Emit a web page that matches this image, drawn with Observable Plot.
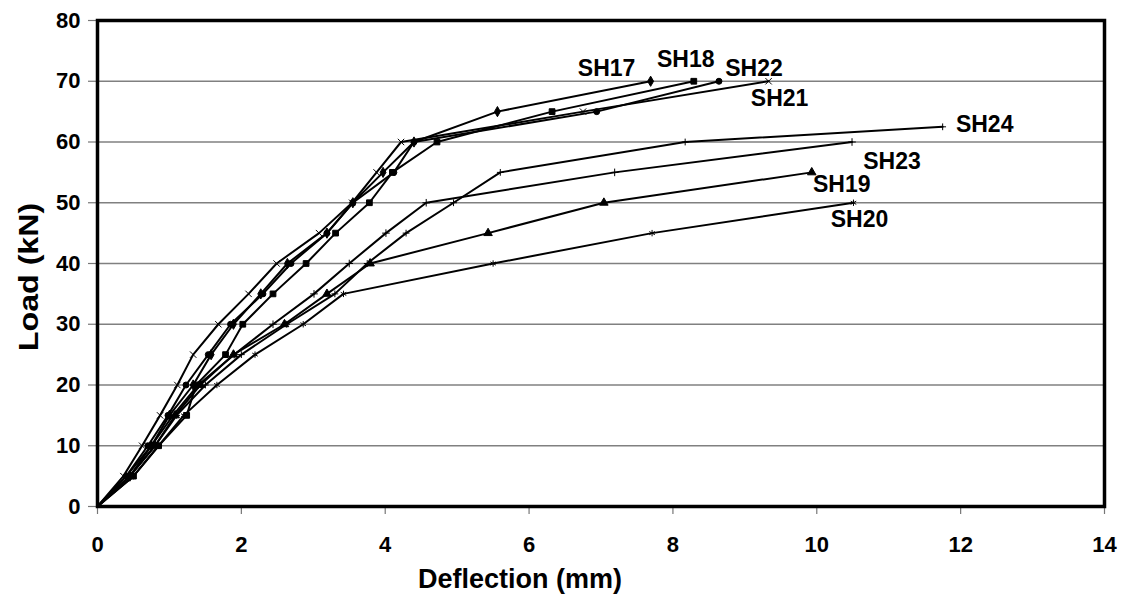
<!DOCTYPE html>
<html>
<head>
<meta charset="utf-8">
<script src="https://cdn.jsdelivr.net/npm/d3@7"></script>
<script src="https://cdn.jsdelivr.net/npm/@observablehq/plot@0.6"></script>
<style>
  html, body { margin: 0; padding: 0; background: #fff; }
  #chart svg { display: block; }
</style>
</head>
<body>
<div id="chart"></div>
<script>
// Load steps (kN)
const loads = [0, 5, 10, 15, 20, 25, 30, 35, 40, 45, 50, 55, 60, 65, 70];
const loadsSH24 = [0, 5, 10, 15, 20, 25, 30, 35, 40, 45, 50, 55, 60, 62.5];

// Deflections (mm) per specimen
const SH17 = [0, 0.45, 0.75, 1.00, 1.33, 1.58, 1.89, 2.27, 2.64, 3.19, 3.55, 3.97, 4.40, 5.56, 7.69];
const SH18 = [0, 0.50, 0.85, 1.24, 1.37, 1.78, 2.02, 2.44, 2.90, 3.31, 3.78, 4.10, 4.72, 6.32, 8.29];
const SH21 = [0, 0.36, 0.62, 0.87, 1.11, 1.33, 1.68, 2.10, 2.49, 3.08, 3.54, 3.88, 4.22, 6.75, 9.33];
const SH22 = [0, 0.40, 0.70, 0.98, 1.23, 1.54, 1.85, 2.30, 2.69, 3.19, 3.55, 4.12, 4.40, 6.94, 8.64];
const SH19 = [0, 0.45, 0.80, 1.08, 1.43, 1.89, 2.60, 3.19, 3.79, 5.43, 7.04, 9.93];
const SH20 = [0, 0.50, 0.85, 1.20, 1.66, 2.19, 2.86, 3.42, 5.50, 7.71, 10.51];
const SH23 = [0, 0.40, 0.75, 1.05, 1.40, 1.90, 2.44, 3.01, 3.50, 4.01, 4.57, 7.19, 10.49];
const SH24 = [0, 0.45, 0.80, 1.10, 1.50, 2.00, 2.63, 3.30, 3.75, 4.29, 4.95, 5.60, 8.17, 11.75];

const seriesNames = ["SH17", "SH18", "SH19", "SH20", "SH21", "SH22", "SH23", "SH24"];
const xTicks = [0, 2, 4, 6, 8, 10, 12, 14];
const yTicks = [0, 10, 20, 30, 40, 50, 60, 70, 80];
const xTitle = "Deflection (mm)";
const yTitle = "Load (kN)";

const seriesDefl = {SH17, SH18, SH19, SH20, SH21, SH22, SH23, SH24};
const seriesLoads = {SH17: loads, SH18: loads, SH19: loads, SH20: loads, SH21: loads, SH22: loads, SH23: loads, SH24: loadsSH24};

const rows = [];
for (const s of seriesNames) {
  const d = seriesDefl[s], l = seriesLoads[s];
  d.forEach((v, i) => rows.push({series: s, defl: v, load: l[i], idx: i}));
}
const ends = seriesNames.map(s => {
  const d = seriesDefl[s], l = seriesLoads[s];
  return {series: s, defl: d[d.length - 1], load: l[d.length - 1]};
});

// label placement offsets (style, not data)
const labelOffset = {
  SH17: [-44, -13], SH18: [-8, -22], SH22: [35, -13], SH21: [11, 17],
  SH24: [42, -2], SH23: [40, 20], SH19: [30, 12], SH20: [6, 17]
};

const symbolMap = {
  SH17: "diamond", SH18: "square", SH19: "triangle", SH20: "asterisk",
  SH21: "times", SH22: "circle", SH23: "plus", SH24: "plus"
};
const sizeMap = {SH17: 3.2, SH18: 3.5, SH19: 3.3, SH20: 3, SH21: 3, SH22: 3, SH23: 2.2, SH24: 1.8};

const font = "Liberation Sans, Arial, Helvetica, sans-serif";

const chart = Plot.plot({
  width: 1126,
  height: 611,
  marginLeft: 97,
  marginRight: 22,
  marginTop: 20,
  marginBottom: 105,
  style: {fontFamily: font, fontWeight: "bold", fontSize: "22px", background: "white", color: "black"},
  x: {domain: [0, 14], ticks: xTicks, label: null},
  y: {domain: [0, 80], ticks: yTicks, label: null},
  symbol: {domain: seriesNames, range: seriesNames.map(s => symbolMap[s])},
  marks: [
    Plot.gridY(yTicks.filter(t => t > 0 && t < 80), {stroke: "#808080", strokeOpacity: 1, strokeWidth: 1.3}),
    Plot.axisY(yTicks, {tickSize: 9, tickPadding: 8, stroke: "#777", strokeWidth: 1.2, fontSize: 22, fontWeight: "bold", label: null}),
    Plot.axisX(xTicks, {tickSize: 8, tickPadding: 22, stroke: "#777", strokeWidth: 1.2, fontSize: 22, fontWeight: "bold", label: null}),
    Plot.line(rows, {x: "defl", y: "load", z: "series", stroke: "black", strokeWidth: 2}),
    Plot.dot(rows.filter(r => r.idx > 0), {
      x: "defl", y: "load", symbol: "series", fill: "black", stroke: "black", strokeWidth: 1,
      r: d => sizeMap[d.series]
    }),
    Plot.frame({stroke: "black", strokeWidth: 3.5}),
    ...seriesNames.map(s => Plot.text(ends.filter(e => e.series === s), {
      x: "defl", y: "load", text: "series",
      dx: labelOffset[s][0], dy: labelOffset[s][1],
      fontSize: 23, fontWeight: "bold", fill: "black"
    })),
    Plot.text([xTitle], {frameAnchor: "bottom", dx: -81, dy: 81, fontSize: 27, fontWeight: "bold", fill: "black"})
  ]
});
document.getElementById("chart").appendChild(chart);

// Y-axis title, placed relative to the plot frame
const svg = d3.select(chart);
svg.append("text")
  .attr("transform", "translate(28,277) rotate(-90) scale(1.15,1)")
  .attr("text-anchor", "middle")
  .attr("dy", "0.35em")
  .attr("font-family", font)
  .attr("font-weight", "bold")
  .attr("font-size", 28)
  .attr("fill", "black")
  .text(yTitle);
</script>
</body>
</html>
